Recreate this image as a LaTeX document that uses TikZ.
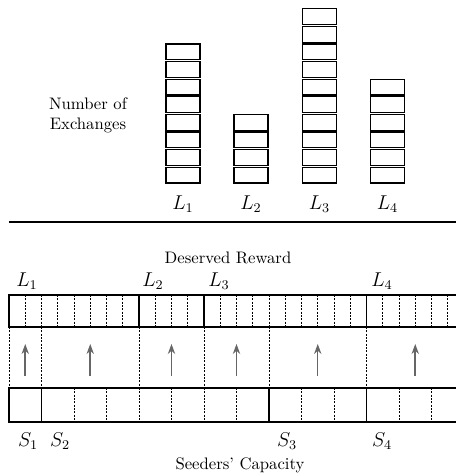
\documentclass[tikz,border=0pt]{standalone}
\usepackage{amsmath}
\usetikzlibrary{arrows.meta}
\begin{document}
\begin{tikzpicture}[x=0.6pt, y=-0.6pt,
    block/.style={draw, line width=0.8pt},
    tick/.style={line width=0.4pt, dash pattern=on 1.2pt off 0.8pt},
    flow/.style={-{Stealth[length=6pt, width=4.4pt]}, draw=black!60, line width=0.9pt},
    lbl/.style={font=\large}]

  \newcommand\Xu{16.25}
  \newcommand\Xo{9}

  \useasboundingbox (0,0) rectangle (456,476);

  %% exchanges per leecher
  \node[align=center] (exch) at (88,115) {Number of\\Exchanges};
  \foreach \cx/\n/\lab in {183/8/1, 251/4/2, 319.5/10/3, 387.5/6/4} {
    \foreach \k in {1,...,\n}
      \draw[block] (\cx-17, 183-\k*17.6+1.8) rectangle (\cx+17, 183-\k*17.6+17.6);
    \node[lbl] (top\lab) at (\cx,204) {$L_{\lab}$};
  }

  \draw[line width=0.9pt] (\Xo,222) -- (480,222);

  \node (reward) at (228,258) {Deserved Reward};

  %% reward bar (top)
  \foreach \i in {1,...,34}
    \draw[tick] (\Xo+\i*\Xu,295) -- (\Xo+\i*\Xu,327);
  \draw[block] (\Xo,295) rectangle (\Xo+40*\Xu,327);
  \foreach \i in {8,12,22,28}
    \draw[block] (\Xo+\i*\Xu,295) -- (\Xo+\i*\Xu,327);

  %% capacity bar (bottom)
  \foreach \i in {2,4,...,34}
    \draw[tick] (\Xo+\i*\Xu,388) -- (\Xo+\i*\Xu,422);
  \draw[block] (\Xo,388) rectangle (\Xo+40*\Xu,422);
  \foreach \i in {2,16,22,28}
    \draw[block] (\Xo+\i*\Xu,388) -- (\Xo+\i*\Xu,422);

  %% matching between the bars
  \foreach \i in {0,2,8,12,16,22,28}
    \draw[tick] (\Xo+\i*\Xu,327) -- (\Xo+\i*\Xu,388);
  \foreach \i in {1,5,10,14,19,25} {
    \coordinate (src\i) at (\Xo+\i*\Xu,376);
    \coordinate (dst\i) at (\Xo+\i*\Xu,344);
    \draw[flow] (src\i) -- (dst\i);
  }

  \node[lbl] (rl1) at (27,281) {$L_1$};
  \node[lbl] (rl2) at (153,281) {$L_2$};
  \node[lbl] (rl3) at (219,281) {$L_3$};
  \node[lbl] (rl4) at (382,281) {$L_4$};

  \node[lbl] (sd1) at (28,441) {$S_1$};
  \node[lbl] (sd2) at (60,441) {$S_2$};
  \node[lbl] (sd3) at (287,441) {$S_3$};
  \node[lbl] (sd4) at (382,441) {$S_4$};

  \node (cap) at (240,465) {Seeders' Capacity};

\end{tikzpicture}
\end{document}
